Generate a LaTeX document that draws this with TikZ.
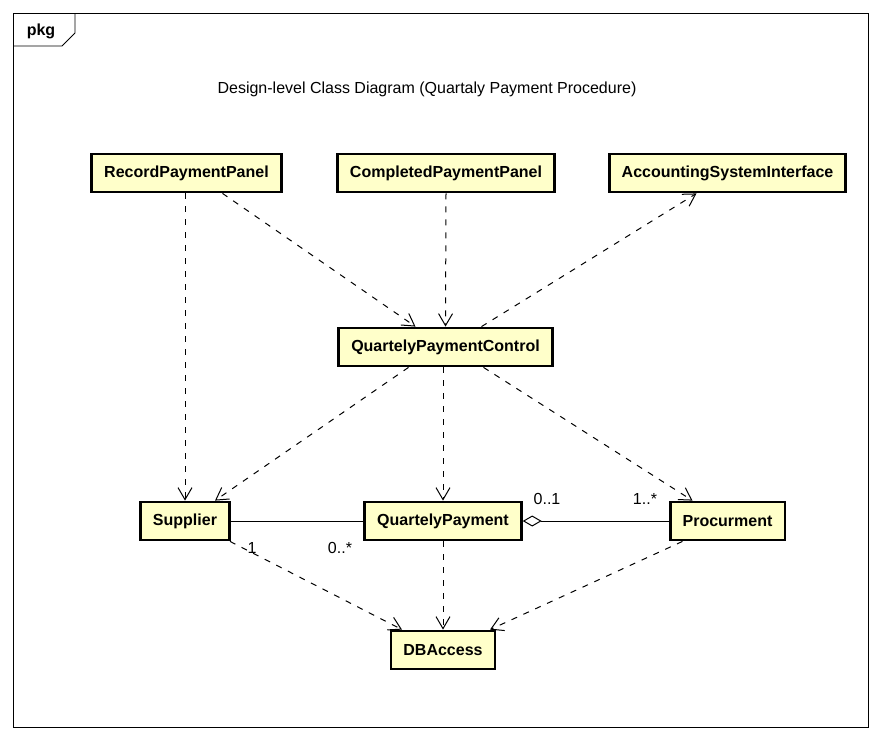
\documentclass[tikz,border=0pt]{standalone}
\usepackage{fontspec}
\setmainfont{Liberation Sans}
\usetikzlibrary{arrows.meta}
\definecolor{classfill}{RGB}{255,255,202}
\tikzset{
  cls/.style={draw,line width=2.8pt,fill=classfill,minimum height=38pt,inner xsep=12.5pt,font=\fontsize{16}{19}\selectfont\bfseries},
  dep/.style={dash pattern=on 6pt off 7pt,line width=1pt,-{Straight Barb[length=12pt,width=14pt]}},
  lbl/.style={font=\fontsize{16}{19}\selectfont}
}
\begin{document}
\begin{tikzpicture}[x=1pt,y=-1pt]
\useasboundingbox (0,0) rectangle (881,740);
\draw[line width=0.9pt] (13,13) rectangle (868,727);
\draw[line width=0.9pt] (13,46) -- (62,46) -- (75,33) -- (75,13);
\node[lbl,font=\fontsize{16}{19}\selectfont\bfseries] (pkg) at (41,31) {pkg};
\node[lbl] (title) at (427,89) {Design-level Class Diagram (Quartaly Payment Procedure)};
\node[cls] (rpp) at (186.5,173) {RecordPaymentPanel};
\node[cls] (cpp) at (446,173) {CompletedPaymentPanel};
\node[cls] (asi) at (727.5,173) {AccountingSystemInterface};
\node[cls] (qpc) at (445.5,347) {QuartelyPaymentControl};
\node[cls] (sup) at (185,521) {Supplier};
\node[cls] (qp) at (443,521) {QuartelyPayment};
\node[cls] (pro) at (727.5,521) {Procurment};
\node[cls] (db) at (443,650) {DBAccess};
\draw[dep] (sup.north |- rpp.south) -- (sup.north);
\draw[dep] ([xshift=36pt]rpp.south) -- ([xshift=-30pt]qpc.north);
\draw[dep] (cpp.south) -- (qpc.north);
\draw[dep] ([xshift=36pt]qpc.north) -- ([xshift=-31pt]asi.south);
\draw[dep] ([xshift=-37pt]qpc.south) -- ([xshift=30pt]sup.north);
\draw[dep] (qp.north |- qpc.south) -- (qp.north);
\draw[dep] ([xshift=38pt]qpc.south) -- ([xshift=-35pt]pro.north);
\draw[dep] ([xshift=45pt]sup.south) -- ([xshift=-41pt]db.north);
\draw[dep] (qp.south) -- (db.north);
\draw[dep] ([xshift=-45pt]pro.south) -- ([xshift=47pt]db.north);
\draw[line width=1pt] (sup) -- (qp);
\draw[line width=1pt,{Diamond[open,length=19pt,width=11pt]}-] (qp) -- (pro);
\node[lbl] (m1) at (252,548) {1};
\node[lbl] (m2) at (340,548) {0..*};
\node[lbl] (m3) at (547,499) {0..1};
\node[lbl] (m4) at (645,499) {1..*};
\end{tikzpicture}
\end{document}
